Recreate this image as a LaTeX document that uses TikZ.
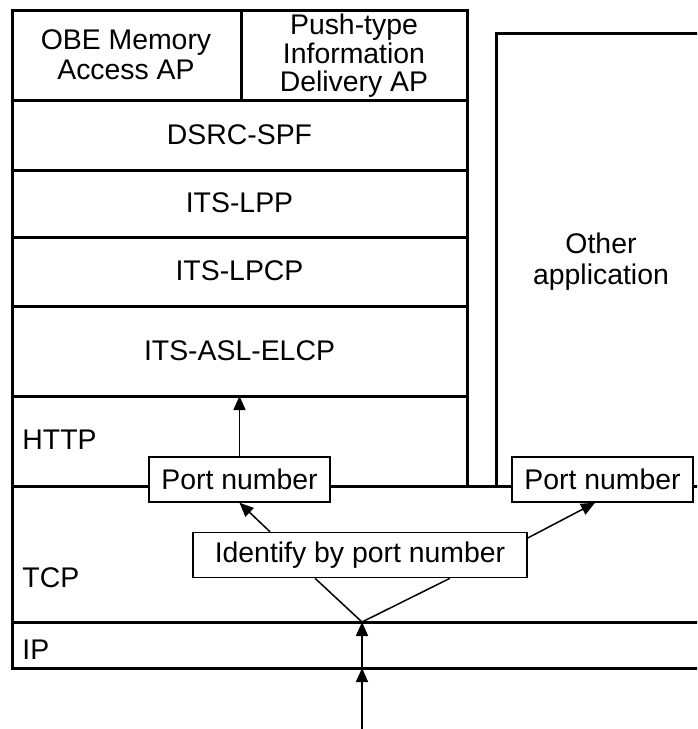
\documentclass[tikz,border=0pt]{standalone}
\usepackage{fontspec}
\setmainfont{Liberation Sans}
\usetikzlibrary{arrows.meta}
\tikzset{layer/.style={font=\fontsize{14.2}{15}\selectfont,align=center,inner sep=0pt},
portbox/.style={draw,fill=white,line width=.75pt,minimum width=90.5pt,minimum height=22.5pt,inner sep=0pt,font=\fontsize{14.2}{15}\selectfont},
arr/.style={-{Triangle[length=7pt,width=6pt]},line width=.75pt}}
\begin{document}
\begin{tikzpicture}[x=.5pt,y=-.5pt]
\useasboundingbox(0,0)rectangle(697,729);
\clip(0,0)rectangle(697,729);
\begin{scope}[line width=1.5pt]
\draw(12,10)rectangle(467,486);
\draw(241,10)--(241,100);
\foreach \y in {100,170,237,306,396}\draw(12,\y)--(467,\y);
\draw(496,486)--(496,33)--(720,33)--(720,486);
\draw(12,486)rectangle(720,668);
\draw(12,622)--(720,622);\end{scope}
\node[layer](obe)at(126,55){OBE Memory\\Access AP};
\node[layer,font=\fontsize{14.2}{14.3}\selectfont](push)at(354,56){Push-type\\Information\\Delivery AP};
\node[layer](dsrc)at(239.5,135){DSRC-SPF};
\node[layer](lpp)at(239.5,203){ITS-LPP};
\node[layer](lpcp)at(239.5,271){ITS-LPCP};
\node[layer](asl)at(239.5,351){ITS-ASL-ELCP};
\node[layer,font=\fontsize{14.2}{15.5}\selectfont](other)at(601,262){Other\\application};
\node[layer,anchor=west](http)at(22,440){HTTP};
\node[layer,anchor=west](tcp)at(22,578){TCP};
\node[layer,anchor=west](ip)at(22,650){IP};
\node[portbox](port1)at(239.5,479.5){Port number};
\node[portbox](port2)at(602.5,479.5){Port number};
\node[portbox,minimum width=167pt](ident)at(360,555){Identify by port number};
\coordinate(aslbot)at(239.5,396);
\coordinate(ipin)at(362,622);
\coordinate(ipbot)at(362,668);
\coordinate(src)at(362,729);
\draw[arr](port1.north)--(aslbot);
\draw[arr]([xshift=-45pt]ident.north)--(port1.south);
\draw[arr]([yshift=8.5pt]ident.east)--([xshift=-3.75pt]port2.south);
\draw[line width=.75pt]([xshift=-22.5pt]ident.south)--(ipin)--([xshift=45pt]ident.south);
\draw[arr](ipbot)--(ipin);
\draw[arr](src)--(ipbot);
\end{tikzpicture}
\end{document}
